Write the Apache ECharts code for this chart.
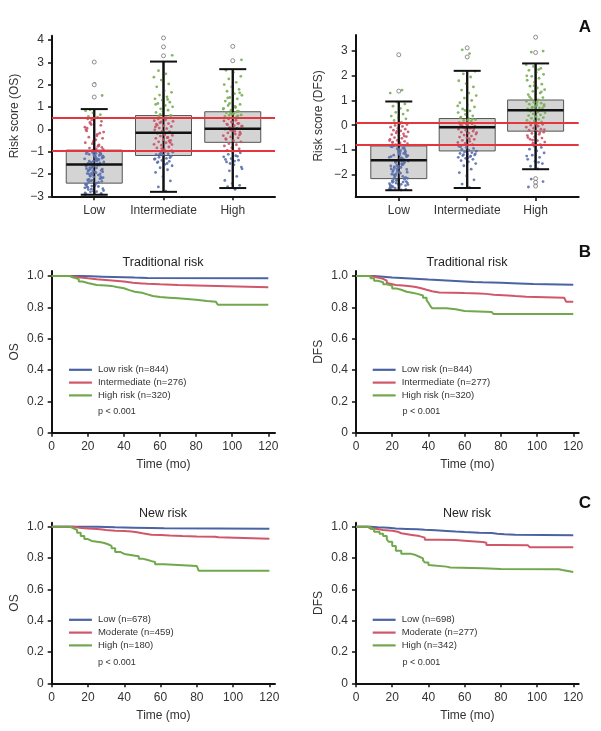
<!DOCTYPE html>
<html>
<head>
<meta charset="utf-8">
<script src="https://cdn.jsdelivr.net/npm/echarts@6/dist/echarts.min.js"></script>
<style>
  html, body { margin: 0; padding: 0; background: #fff; }
  #main { width: 601px; height: 731px; }
</style>
</head>
<body>
<div id="main"></div>
<script>
// ---- data ----
const riskCats = ['Low', 'Intermediate', 'High'];

// [min, Q1, median, Q3, max] per category
const osBoxStats = [[-2.93, -2.41, -1.57, -0.93, 0.91], [-2.8, -1.17, -0.15, 0.62, 3.04], [-2.63, -0.58, 0.03, 0.79, 2.7]];
const dfsBoxStats = [[-2.63, -2.16, -1.42, -0.84, 0.96], [-2.54, -1.04, -0.08, 0.27, 2.2], [-1.78, -0.24, 0.61, 1.02, 2.5]];
const osCutoffs = [-0.97, 0.5];
const dfsCutoffs = [-0.81, 0.08];
const osOutliers = [[1.45, 2.0, 3.02], [3.3, 3.7, 4.1], [3.08, 3.72]];
const dfsOutliers = [[1.38, 2.85], [2.76, 3.13], [2.94, 3.56, -2.16, -2.31, -2.46]];

// risk scores of the patients (jittered points)
const osLowScores = [-2.41, -1.12, -2.87, -1.63, -0.99, -2.05, -1.48, -2.66, -1.27, -1.88, -2.21, -1.04, -2.92, -1.55, -1.71, -2.33, -1.19, -2.58, -1.36, -1.96,
  -2.74, -1.08, -1.83, -2.12, -1.44, -2.49, -1.59, -2.8, -1.23, -1.92, -2.27, -1.01, -1.67, -2.62, -1.31, -2.01, -2.9, -1.15, -1.76, -2.38,
  -1.52, -2.16, -1.39, -2.7, -1.06, -1.86, -2.45, -1.61, -2.08, -1.29, -2.83, -1.98, -1.17, -2.54, -1.46, -1.73, -2.24, -1.1, -2.77, -1.65,
  -1.34, -2.31, -1.9, -1.21, -2.6, -1.5, -2.03, -2.85, -1.41, -1.8, -2.19, -1.03, -2.47, -1.57, -2.68, -1.25, -1.94, -2.36, -1.13, -1.69,
  -2.88, -1.37, -2.1, -1.78, -2.52, -1.0, -1.6, -2.29, -1.32, -2.79, -1.42, -1.84, -2.14, -1.09, -2.56, -1.74, -1.2, -2.43, -1.53, -2.0,
  -0.93, -0.6, -0.22, 0.31, -0.81, -0.45, 0.05, -0.7, 0.42, -0.12, -0.88, -0.35, 0.18, -0.55, -0.02, -0.76, 0.26, -0.4, -0.95, 0.47,
  -0.17, -0.64, 0.1, -0.29, -0.84, 0.36, -0.5, -0.07, -0.72, 0.22, -0.9, -0.47,
  0.58, 0.66, 0.74, 0.83, 0.55, 0.88, 1.52, 2.06];
const osIntScores = [-2.77, -2.58, -2.31, -2.12, -1.93, -1.81, -1.72, -1.63, -1.57, -1.49, -1.43, -1.39, -1.34, -1.3, -1.25, -1.21, -1.17, -1.13, -1.09, -1.06,
  -1.02, -0.99, -1.46, -1.27, -1.15, -1.32, -1.53, -1.11,
  -0.95, -0.91, -0.83, -0.79, -0.71, -0.67, -0.6, -0.56, -0.49, -0.46, -0.4, -0.36, -0.3, -0.27, -0.2, -0.18, -0.11, -0.09, -0.02, 0.03,
  0.06, 0.13, 0.16, 0.23, 0.26, 0.33, 0.36, 0.43, 0.47, -0.59, -0.13, 0.11, -0.37, 0.3, -0.68, -0.24, 0.19, -0.52, -0.86, 0.39,
  0.53, 0.59, 0.63, 0.71, 0.76, 0.86, 0.92, 1.01, 1.07, 1.16, 1.22, 1.31, 1.37, 1.46, 1.54, 1.66, 1.74, 1.91, 2.04, 2.21,
  2.34, 2.49, 2.63, 0.61, 0.81, 1.12, 1.34, 0.67, 3.32];
const osHighScores = [-2.69, -2.57, -2.51, -2.43, -2.29, -2.11, -1.86, -1.69, -1.59, -1.46, -1.38, -1.31, -1.23, -1.18, -1.12, -1.05, -1.01, -1.35, -1.21, -1.53,
  -1.77, -1.42,
  -0.94, -0.87, -0.82, -0.74, -0.69, -0.64, -0.56, -0.51, -0.45, -0.38, -0.34, -0.28, -0.21, -0.16, -0.12, -0.06, 0.01, 0.04,
  0.08, 0.14, 0.17, 0.24, 0.27, 0.34, 0.38, 0.41, 0.47, -0.19, 0.06, -0.42, 0.26, -0.03, 0.15, -0.09, 0.21, -0.25, 0.32,
  0.52, 0.56, 0.63, 0.65, 0.72, 0.75, 0.82, 0.86, 0.94, 0.98, 1.07, 1.12, 1.21, 1.27, 1.37, 1.43, 1.53, 1.6, 1.71, 1.79,
  1.91, 2.01, 2.11, 2.26, 2.38, 2.56, 2.65, 0.61, 0.73, 0.91, 1.03, 1.41, 1.64, 0.69, 0.58, 0.79, 1.16, 3.12];
const dfsLowScores = [-2.62, -1.21, -2.44, -1.67, -0.86, -2.07, -1.48, -2.33, -1.12, -1.88, -2.19, -0.95, -2.58, -1.55, -1.73, -2.28, -1.16, -2.51, -1.37, -1.96,
  -2.4, -1.03, -1.83, -2.12, -1.42, -2.47, -1.59, -2.55, -1.25, -1.92, -2.25, -0.91, -1.63, -2.36, -1.31, -2.01, -2.6, -1.08, -1.77, -2.3,
  -1.51, -2.15, -1.34, -2.49, -0.99, -1.86, -2.42, -1.61, -2.09, -1.28, -2.53, -1.98, -1.14, -2.22, -1.45, -1.71, -2.17, -1.06, -2.38, -1.65,
  -1.4, -2.04, -1.9, -1.19, -2.31, -1.5, -1.8, -2.56, -1.44, -1.69, -2.13, -0.97, -2.46, -1.57, -2.34, -1.23, -1.94, -2.27, -1.1, -1.74,
  -2.61, -1.36, -2.02, -1.79, -2.45, -0.88, -1.53, -2.24, -1.3, -2.39, -0.83, -1.18, -1.01, -1.27, -0.93,
  -0.79, -0.75, -0.72, -0.68, -0.65, -0.61, -0.57, -0.53, -0.5, -0.46, -0.42, -0.38, -0.35, -0.31, -0.27, -0.23, -0.2, -0.16, -0.12, -0.08,
  -0.05, -0.01, 0.03, 0.06, -0.7, -0.44, -0.25, -0.62,
  0.12, 0.19, 0.26, 0.3, 0.37, 0.45, 0.52, 0.6, 0.68, 0.77, 0.86, 0.93, 1.3, 1.42];
const dfsIntScores = [-2.52, -2.38, -2.21, -2.05, -1.92, -1.78, -1.64, -1.55, -1.48, -1.43, -1.38, -1.34, -1.3, -1.27, -1.23, -1.2, -1.17, -1.14, -1.11, -1.08,
  -1.05, -1.02, -0.98, -0.94, -0.9, -0.85, -1.25, -1.19, -1.16, -1.32, -0.87,
  -0.79, -0.74, -0.7, -0.65, -0.61, -0.57, -0.52, -0.48, -0.44, -0.4, -0.36, -0.32, -0.28, -0.24, -0.2, -0.16, -0.12, -0.08, -0.04, 0.0,
  0.03, 0.06, -0.1, -0.3, -0.55, -0.02, -0.14, 0.05,
  0.11, 0.15, 0.19, 0.23, 0.28, 0.33, 0.38, 0.44, 0.51, 0.58, 0.66, 0.74, 0.82, 0.91, 1.0, 1.1, 1.2, 1.3, 1.42, 1.55,
  1.68, 1.8, 1.95, 2.08, 2.18, 0.2, 0.3, 0.25, 0.6, 0.78, 2.9, 3.05];
const dfsHighScores = [-1.77, -1.66, -1.55, -1.46, -1.38, -1.3, -1.21, -1.12, -1.04, -0.97, -0.9, -0.84, -1.25, -1.5, -2.18, -2.28, -2.41, -2.5,
  -0.79, -0.73, -0.68, -0.62, -0.57, -0.52, -0.47, -0.42, -0.37, -0.33, -0.28, -0.24, -0.2, -0.16, -0.12, -0.08, -0.04, 0.0, 0.04, 0.07,
  -0.5, -0.3, -0.6, -0.18, -0.02,
  0.1, 0.13, 0.17, 0.2, 0.24, 0.28, 0.31, 0.35, 0.39, 0.42, 0.46, 0.5, 0.53, 0.57, 0.6, 0.63, 0.66, 0.7, 0.73, 0.77,
  0.81, 0.85, 0.89, 0.93, 0.97, 1.02, 1.07, 1.12, 1.18, 1.24, 1.3, 1.37, 1.44, 1.51, 1.58, 1.66, 1.74, 1.82, 1.9, 1.98,
  2.06, 2.14, 2.22, 2.3, 2.38, 2.45, 0.55, 0.62, 0.68, 0.75, 0.64, 0.59, 0.71, 0.83, 0.92, 1.15, 1.35, 1.6, 2.0, 2.25, 2.96, 3.0];

// Kaplan-Meier curves: [time (mo), survival]
const osTradLow = [[0, 1], [12, 1], [16, 0.998], [22, 0.996], [28, 0.994], [34, 0.992], [40, 0.99], [46, 0.988], [53, 0.985], [120, 0.985]];
const osTradInt = [[0, 1], [8, 1], [10, 0.995], [13, 0.99], [16, 0.985], [20, 0.979], [25, 0.975], [30, 0.97], [35, 0.965], [40, 0.957],
  [45, 0.953], [50, 0.95], [53, 0.947], [60, 0.943], [70, 0.94], [80, 0.936], [81, 0.928], [120, 0.928]];
const osTradHigh = [[0, 1], [8, 1], [10, 0.99], [12, 0.98], [15, 0.965], [17, 0.955], [20, 0.943], [25, 0.94], [30, 0.937], [33, 0.93],
  [36, 0.922], [40, 0.91], [43, 0.9], [46, 0.893], [50, 0.883], [53, 0.872], [56, 0.866], [60, 0.862], [65, 0.858], [70, 0.853],
  [75, 0.848], [80, 0.84], [86, 0.835], [91, 0.832], [92, 0.817], [120, 0.817]];
const dfsTradLow = [[0, 1], [6, 1], [10, 0.996], [15, 0.99], [20, 0.987], [25, 0.984], [30, 0.981], [35, 0.977], [40, 0.974], [45, 0.971],
  [50, 0.968], [55, 0.965], [60, 0.962], [65, 0.96], [70, 0.957], [80, 0.953], [90, 0.949], [98, 0.945], [120, 0.945]];
const dfsTradInt = [[0, 1], [5, 1], [8, 0.995], [10, 0.99], [12, 0.982], [15, 0.97], [17, 0.955], [18, 0.943], [22, 0.94], [26, 0.935],
  [30, 0.93], [33, 0.922], [36, 0.912], [39, 0.903], [42, 0.895], [46, 0.891], [60, 0.889], [68, 0.886], [72, 0.881], [76, 0.876],
  [84, 0.872], [88, 0.867], [94, 0.862], [115, 0.862], [116, 0.836], [120, 0.836]];
const dfsTradHigh = [[0, 1], [6, 1], [8, 0.985], [10, 0.97], [12, 0.96], [15, 0.947], [17, 0.937], [20, 0.921], [22, 0.912], [25, 0.9],
  [28, 0.893], [31, 0.886], [34, 0.876], [37, 0.862], [39, 0.845], [40, 0.83], [41, 0.81], [42, 0.795], [50, 0.788], [55, 0.777],
  [60, 0.77], [75, 0.766], [76, 0.757], [120, 0.757]];
const osNewLow = [[0, 1], [25, 1], [26, 0.996], [35, 0.994], [45, 0.992], [55, 0.99], [62, 0.987], [120, 0.987]];
const osNewMod = [[0, 1], [8, 1], [12, 0.994], [15, 0.989], [20, 0.985], [25, 0.982], [28, 0.979], [30, 0.974], [35, 0.972], [40, 0.97],
  [44, 0.965], [47, 0.958], [50, 0.949], [55, 0.947], [60, 0.943], [65, 0.94], [72, 0.938], [80, 0.936], [90, 0.932], [92, 0.923], [120, 0.923]];
const osNewHigh = [[0, 1], [8, 1], [10, 0.99], [12, 0.979], [14, 0.962], [16, 0.94], [18, 0.921], [20, 0.909], [22, 0.9], [27, 0.896],
  [29, 0.888], [31, 0.877], [33, 0.862], [35, 0.838], [38, 0.826], [40, 0.815], [46, 0.811], [48, 0.796], [50, 0.787], [53, 0.78],
  [55, 0.774], [57, 0.76], [62, 0.749], [80, 0.749], [81, 0.719], [120, 0.719]];
const dfsNewLow = [[0, 1], [5, 1], [8, 0.997], [12, 0.993], [18, 0.989], [22, 0.986], [28, 0.983], [34, 0.98], [38, 0.977], [44, 0.973],
  [50, 0.969], [55, 0.966], [60, 0.962], [68, 0.959], [75, 0.955], [78, 0.951], [82, 0.948], [88, 0.945], [120, 0.945]];
const dfsNewMod = [[0, 1], [4, 1], [6, 0.99], [8, 0.985], [12, 0.979], [15, 0.974], [20, 0.968], [23, 0.958], [25, 0.949], [30, 0.94],
  [35, 0.93], [38, 0.917], [45, 0.915], [55, 0.911], [60, 0.906], [66, 0.902], [70, 0.898], [72, 0.883], [80, 0.881], [95, 0.877],
  [96, 0.868], [120, 0.868]];
const dfsNewHigh = [[0, 1], [6, 1], [8, 0.985], [10, 0.968], [13, 0.955], [15, 0.94], [17, 0.92], [18, 0.904], [20, 0.877], [22, 0.847],
  [25, 0.828], [30, 0.819], [33, 0.808], [35, 0.798], [37, 0.785], [38, 0.772], [40, 0.755], [41, 0.745], [50, 0.74], [52, 0.734],
  [70, 0.73], [80, 0.728], [112, 0.723], [114, 0.711], [120, 0.711]];

const timeTicks = [0, 20, 40, 60, 80, 100, 120];
const survTicks = [0, 0.2, 0.4, 0.6, 0.8, 1.0];
const osScoreTicks = [-3, -2, -1, 0, 1, 2, 3, 4];
const dfsScoreTicks = [-2, -1, 0, 1, 2, 3];

// ---- styles ----
const BLUE = '#4a63a3', RED = '#d0576a', GREEN = '#70a84c';
const DOT_BLUE = '#5b70ad', DOT_RED = '#c95468', DOT_GREEN = '#7aae55';
const FONT = 'Liberation Sans, Arial, sans-serif';
const TXT = '#333';
const BOX_HALF = 28, CAP_HALF = 13.5;
const LEGEND_LINE = 'path://M0,0 M0,4.8 L25,4.8 L25,7.2 L0,7.2 Z M25,12';

const chart = echarts.init(document.getElementById('main'));

function minusFmt(v) {
  return v < 0 ? '\u2212' + Math.abs(v) : String(v);
}

// golden-ratio jitter around the category centre
function jitter(i) {
  return (((i + 1) * 0.6180339887) % 1 - 0.5) * 0.28;
}

function axisLineStyle() {
  return { show: true, onZero: false, lineStyle: { color: '#111', width: 2 } };
}

function boxBody(params, api) {
  const x = api.value(0);
  const lo = api.coord([x, api.value(1)]);
  const q1 = api.coord([x, api.value(2)]);
  const q3 = api.coord([x, api.value(4)]);
  const hi = api.coord([x, api.value(5)]);
  return {
    type: 'group',
    children: [
      { type: 'rect', shape: { x: q3[0] - BOX_HALF, y: q3[1], width: BOX_HALF * 2, height: q1[1] - q3[1] },
        style: { fill: '#d4d4d4', stroke: '#555', lineWidth: 1 } },
      { type: 'line', shape: { x1: lo[0], y1: lo[1], x2: hi[0], y2: hi[1] }, style: { stroke: '#111', lineWidth: 2 } }
    ]
  };
}

function boxLines(params, api) {
  const x = api.value(0);
  const lo = api.coord([x, api.value(1)]);
  const q1 = api.coord([x, api.value(2)]);
  const md = api.coord([x, api.value(3)]);
  const q3 = api.coord([x, api.value(4)]);
  const hi = api.coord([x, api.value(5)]);
  const st = { stroke: '#111', lineWidth: 2 };
  return {
    type: 'group',
    children: [
      { type: 'line', shape: { x1: lo[0], y1: lo[1], x2: q1[0], y2: q1[1] }, style: st },
      { type: 'line', shape: { x1: q3[0], y1: q3[1], x2: hi[0], y2: hi[1] }, style: st },
      { type: 'line', shape: { x1: lo[0] - CAP_HALF, y1: lo[1], x2: lo[0] + CAP_HALF, y2: lo[1] }, style: st },
      { type: 'line', shape: { x1: hi[0] - CAP_HALF, y1: hi[1], x2: hi[0] + CAP_HALF, y2: hi[1] }, style: st },
      { type: 'line', shape: { x1: md[0] - BOX_HALF, y1: md[1], x2: md[0] + BOX_HALF, y2: md[1] }, style: { stroke: '#111', lineWidth: 2.5 } }
    ]
  };
}

function boxPanel(idx, stats, scores, outliers, cutoffs) {
  const boxData = stats.map((s, i) => [i + 1].concat(s));
  const pts = [];
  scores.forEach((arr, c) => arr.forEach((v, i) => pts.push([c + 1 + jitter(i), v])));
  const outs = [];
  outliers.forEach((arr, c) => arr.forEach(v => outs.push([c + 1, v])));
  return [
    { type: 'custom', xAxisIndex: idx, yAxisIndex: idx, renderItem: boxBody, data: boxData,
      encode: { x: 0, y: [1, 2, 3, 4, 5] }, z: 1, silent: true },
    { type: 'scatter', xAxisIndex: idx, yAxisIndex: idx, data: pts, symbolSize: 2.8, z: 2, silent: true,
      itemStyle: { opacity: 0.9, color: p => p.value[1] < cutoffs[0] ? DOT_BLUE : (p.value[1] < cutoffs[1] ? DOT_RED : DOT_GREEN) } },
    { type: 'custom', xAxisIndex: idx, yAxisIndex: idx, renderItem: boxLines, data: boxData,
      encode: { x: 0, y: [1, 2, 3, 4, 5] }, z: 3, silent: true,
      markLine: { silent: true, symbol: ['none', 'none'], label: { show: false },
        lineStyle: { color: '#e5353f', width: 2.2, type: 'solid' },
        data: cutoffs.map(c => ({ yAxis: c })) } },
    { type: 'scatter', xAxisIndex: idx, yAxisIndex: idx, data: outs, symbol: 'circle', symbolSize: 4, z: 4, silent: true,
      itemStyle: { color: '#fff', borderColor: '#666', borderWidth: 0.9 } }
  ];
}

function kmSeries(idx, curves) {
  return curves.map(([name, data, color]) => ({
    type: 'line', name: name, xAxisIndex: idx, yAxisIndex: idx, data: data, step: 'end',
    symbol: 'none', showSymbol: false, color: color, lineStyle: { color: color, width: 2 }, silent: true
  }));
}

const grids = [
  { left: 52, top: 35.7, width: 223, height: 160.6 },
  { left: 355.7, top: 35, width: 223, height: 161.9 },
  { left: 51.7, top: 271, width: 223.3, height: 161.7 },
  { left: 356, top: 271, width: 222.7, height: 161.7 },
  { left: 51.7, top: 522.7, width: 223.3, height: 160.6 },
  { left: 356, top: 522.7, width: 222.7, height: 160.6 }
].map(g => Object.assign({ outerBoundsMode: 'none', containLabel: false }, g));

function boxXAxis(idx, min, max) {
  return {
    gridIndex: idx, type: 'value', min: min, max: max, axisLine: axisLineStyle(),
    axisTick: { show: true, customValues: [1, 2, 3], length: 4, lineStyle: { color: '#111', width: 1.5 } },
    axisLabel: { customValues: [1, 2, 3], formatter: v => riskCats[Math.round(v) - 1], color: TXT, fontSize: 12, fontFamily: FONT, margin: 8 },
    splitLine: { show: false }
  };
}
function boxYAxis(idx, min, max, ticks, name) {
  return {
    gridIndex: idx, type: 'value', min: min, max: max, axisLine: axisLineStyle(),
    axisTick: { show: true, customValues: ticks, length: 4, lineStyle: { color: '#111', width: 1.5 } },
    axisLabel: { customValues: ticks, formatter: minusFmt, color: TXT, fontSize: 12, fontFamily: FONT, margin: 8 },
    splitLine: { show: false },
    name: name, nameLocation: 'middle', nameGap: 31, nameTextStyle: { color: TXT, fontSize: 12, fontFamily: FONT }
  };
}
function kmXAxis(idx, max) {
  return {
    gridIndex: idx, type: 'value', min: 0, max: max, axisLine: axisLineStyle(),
    axisTick: { show: true, customValues: timeTicks, length: 4, lineStyle: { color: '#111', width: 1.5 } },
    axisLabel: { customValues: timeTicks, color: TXT, fontSize: 12, fontFamily: FONT, margin: 8 },
    splitLine: { show: false },
    name: 'Time (mo)', nameLocation: 'middle', nameGap: 26, nameTextStyle: { color: TXT, fontSize: 12, fontFamily: FONT }
  };
}
function kmYAxis(idx, max, name) {
  return {
    gridIndex: idx, type: 'value', min: 0, max: max, axisLine: axisLineStyle(),
    axisTick: { show: true, customValues: survTicks, length: 4, lineStyle: { color: '#111', width: 1.5 } },
    axisLabel: { customValues: survTicks, formatter: v => v === 0 ? '0' : v.toFixed(1), color: TXT, fontSize: 12, fontFamily: FONT, margin: 8 },
    splitLine: { show: false },
    name: name, nameLocation: 'middle', nameGap: 31, nameTextStyle: { color: TXT, fontSize: 12, fontFamily: FONT }
  };
}

const kmCurves = [
  [['Low risk (n=844)', osTradLow, BLUE], ['Intermediate (n=276)', osTradInt, RED], ['High risk (n=320)', osTradHigh, GREEN]],
  [['Low risk (n=844)', dfsTradLow, BLUE], ['Intermediate (n=277)', dfsTradInt, RED], ['High risk (n=320)', dfsTradHigh, GREEN]],
  [['Low (n=678)', osNewLow, BLUE], ['Moderate (n=459)', osNewMod, RED], ['High (n=180)', osNewHigh, GREEN]],
  [['Low (n=698)', dfsNewLow, BLUE], ['Moderate (n=277)', dfsNewMod, RED], ['High (n=342)', dfsNewHigh, GREEN]]
];
const legendPos = [[69, 364.3], [372.7, 364.3], [69, 614.3], [372.7, 614.3]];

function txt(text, x, y, font, opts) {
  return {
    type: 'text', x: x, y: y, silent: true,
    style: Object.assign({ text: text, fill: '#222', font: font, align: 'center', verticalAlign: 'middle' }, opts || {})
  };
}

const option = {
  animation: false,
  backgroundColor: '#fff',
  grid: grids,
  xAxis: [
    boxXAxis(0, 0.39, 3.61), boxXAxis(1, 0.37, 3.63),
    kmXAxis(2, 123.7), kmXAxis(3, 123), kmXAxis(4, 123.1), kmXAxis(5, 123)
  ],
  yAxis: [
    boxYAxis(0, -3, 4.2, osScoreTicks, 'Risk score (OS)'),
    boxYAxis(1, -2.9, 3.65, dfsScoreTicks, 'Risk score (DFS)'),
    kmYAxis(2, 1.032, 'OS'), kmYAxis(3, 1.032, 'DFS'), kmYAxis(4, 1.0255, 'OS'), kmYAxis(5, 1.0255, 'DFS')
  ],
  legend: kmCurves.map((curves, i) => ({
    data: curves.map(c => ({ name: c[0], icon: LEGEND_LINE })), orient: 'vertical',
    left: legendPos[i][0], top: legendPos[i][1],
    padding: 0, itemGap: 1.8, itemWidth: 25, itemHeight: 11, selectedMode: false,
    textStyle: { color: TXT, fontSize: 9.5, fontFamily: FONT }
  })),
  series: [].concat(
    boxPanel(0, osBoxStats, [osLowScores, osIntScores, osHighScores], osOutliers, osCutoffs),
    boxPanel(1, dfsBoxStats, [dfsLowScores, dfsIntScores, dfsHighScores], dfsOutliers, dfsCutoffs),
    kmSeries(2, kmCurves[0]), kmSeries(3, kmCurves[1]), kmSeries(4, kmCurves[2]), kmSeries(5, kmCurves[3])
  ),
  graphic: [
    txt('A', 585, 27, 'bold 17px ' + FONT, { fill: '#111' }),
    txt('B', 585, 252, 'bold 17px ' + FONT, { fill: '#111' }),
    txt('C', 585, 503, 'bold 17px ' + FONT, { fill: '#111' }),
    txt('Traditional risk', 163, 263, '12.5px ' + FONT),
    txt('Traditional risk', 467, 263, '12.5px ' + FONT),
    txt('New risk', 163, 513.5, '12.5px ' + FONT),
    txt('New risk', 467, 513.5, '12.5px ' + FONT),
    txt('p < 0.001', 98, 411.5, '9px ' + FONT, { fill: TXT, align: 'left' }),
    txt('p < 0.001', 402.5, 411.5, '9px ' + FONT, { fill: TXT, align: 'left' }),
    txt('p < 0.001', 98, 663, '9px ' + FONT, { fill: TXT, align: 'left' }),
    txt('p < 0.001', 402.5, 663, '9px ' + FONT, { fill: TXT, align: 'left' })
  ]
};

chart.setOption(option);
</script>
</body>
</html>
